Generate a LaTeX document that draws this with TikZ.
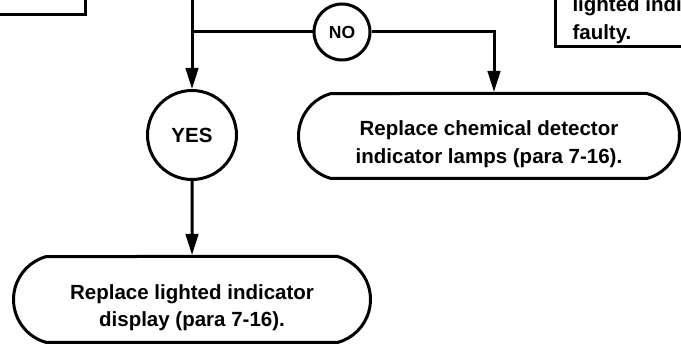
\documentclass[tikz,border=0pt]{standalone}
\usepackage{fontspec}
\setmainfont{Liberation Sans}
\usetikzlibrary{arrows.meta,shapes.misc}
\tikzset{
	flow/.style={line width=3pt},
	arr/.style={flow,-{Triangle[length=21pt,width=12.5pt]}},
	answer/.style={circle,draw,line width=3pt,inner sep=0pt,font=\bfseries\fontsize{20.5}{24}\selectfont},
	action/.style={rounded rectangle,rounded rectangle arc length=150,draw,line width=3pt,align=center,inner sep=0pt,font=\bfseries\fontsize{20.5}{27.5}\selectfont},
}
\newcommand{\textdrop}{\rule{0pt}{31pt}}
\begin{document}
\begin{tikzpicture}[x=1pt,y=-1pt]
	\useasboundingbox (0,0) rectangle (681,347);
	\clip (0,0) rectangle (681,347);
	
	% boxes cut by the edge
	\draw[flow] (-50,-80) rectangle (85,15);
	\draw[flow] (555,-80) rectangle (760,47);
	\node[anchor=base west,font=\bfseries\fontsize{20.5}{27.5}\selectfont] (lit) at (569,12){lighted indicator};
	\node[anchor=base west,font=\bfseries\fontsize{20.5}{27.5}\selectfont] (flt) at (569,39.5){faulty.};
	
	\coordinate (in) at (192,-10);
	\coordinate (split) at (192,32);
	
	\node[answer,minimum size=56pt,font=\bfseries\fontsize{17.5}{20}\selectfont] (no) at (342,32){NO};
	\node[answer,minimum size=89pt] (yes) at (192,135){YES};
	
	\node[action,minimum width=381pt,minimum height=85pt] (lamps) at (489,136){\textdrop Replace chemical detector\\indicator lamps (para 7-16).};
	\node[action,minimum width=357pt,minimum height=86pt] (display) at (192,299.5){\textdrop Replace lighted indicator\\display (para 7-16).};
	
	\draw[arr] (in) -- (yes);
	\draw[flow] (split) -- (no);
	\draw[arr] (no) -| ([xshift=5pt]lamps.north);
	\draw[arr] (yes) -- (display);
	
\end{tikzpicture}
\end{document}
